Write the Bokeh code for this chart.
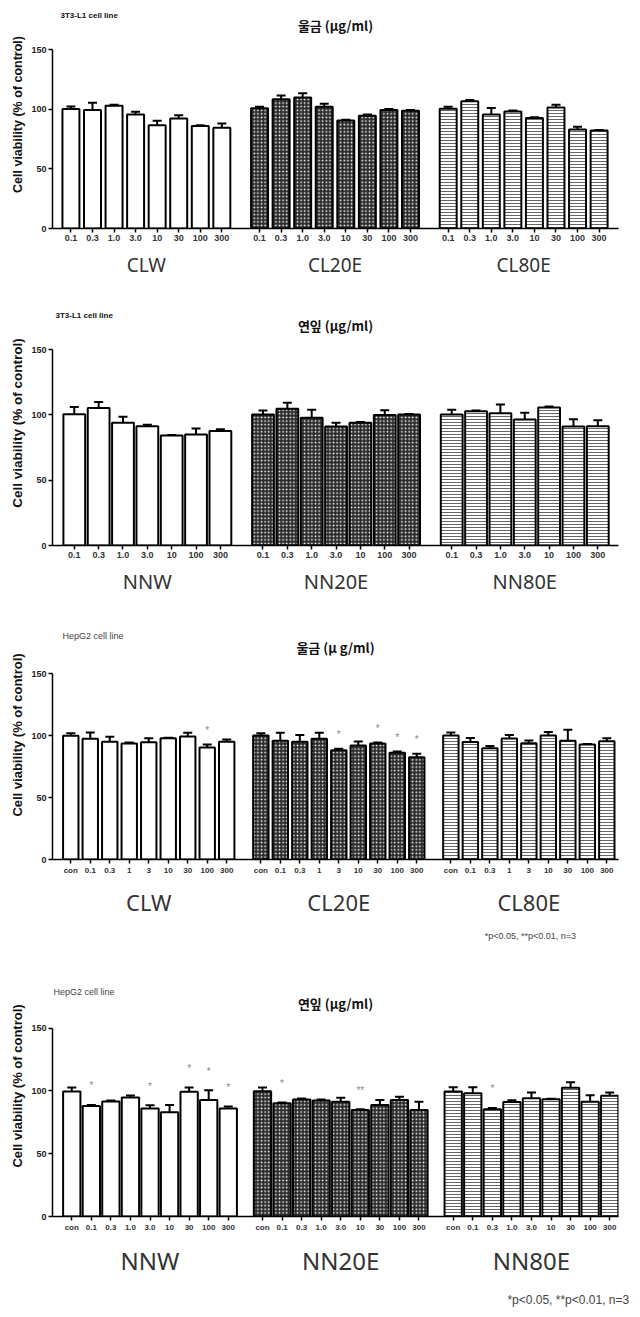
from bokeh.plotting import figure
from bokeh.models import (Range1d, LinearAxis, FixedTicker, Title, Whisker, TeeHead,
                          ColumnDataSource, Label)
from bokeh.layouts import column
from bokeh.embed import file_html
from bokeh.resources import INLINE

# ---------------- data ----------------
# Panel 1: 3T3-L1 cell line, 울금
p1_groups = ["CLW", "CL20E", "CL80E"]
p1_concs = ["0.1", "0.3", "1.0", "3.0", "10", "30", "100", "300"]
p1_clw = [100.1, 99.2, 102.9, 95.6, 86.6, 92.2, 85.8, 84.4]
p1_clw_err = [102.3, 105.4, 103.7, 97.8, 90.3, 94.8, 86.6, 88.0]
p1_cl20e = [100.8, 108.4, 109.8, 102.0, 90.4, 94.4, 99.4, 98.6]
p1_cl20e_err = [102.0, 111.5, 113.4, 104.5, 91.2, 95.6, 100.2, 99.2]
p1_cl80e = [100.3, 106.7, 95.5, 98.0, 92.5, 101.4, 83.0, 82.1]
p1_cl80e_err = [102.0, 107.6, 101.0, 98.8, 93.3, 103.7, 85.2, 82.6]

# Panel 2: 3T3-L1 cell line, 연잎
p2_groups = ["NNW", "NN20E", "NN80E"]
p2_concs = ["0.1", "0.3", "1.0", "3.0", "10", "100", "300"]
p2_nnw = [100.4, 105.3, 94.0, 91.2, 84.2, 85.0, 87.6]
p2_nnw_err = [106.0, 109.9, 98.6, 92.5, 84.6, 89.5, 89.0]
p2_nn20e = [100.2, 104.6, 97.7, 91.1, 94.0, 99.9, 100.2]
p2_nn20e_err = [103.3, 109.2, 103.8, 93.9, 94.5, 103.6, 100.6]
p2_nn80e = [100.2, 102.8, 101.2, 96.4, 105.6, 91.0, 91.3]
p2_nn80e_err = [103.8, 103.3, 107.9, 101.5, 106.3, 96.6, 95.9]

# Panel 3: HepG2 cell line, 울금
p3_groups = ["CLW", "CL20E", "CL80E"]
p3_concs = ["con", "0.1", "0.3", "1", "3", "10", "30", "100", "300"]
p3_clw = [99.7, 97.3, 94.9, 93.5, 94.6, 97.8, 99.2, 90.3, 94.9]
p3_clw_err = [101.9, 102.4, 98.9, 94.4, 97.8, 98.1, 102.2, 92.7, 96.8]
p3_clw_sig = ["", "", "", "", "", "", "", "*", ""]
p3_cl20e = [100.0, 95.7, 94.9, 97.4, 88.2, 91.9, 93.6, 86.0, 82.5]
p3_cl20e_err = [101.9, 102.2, 100.5, 102.3, 89.3, 95.2, 94.3, 87.0, 85.2]
p3_cl20e_sig = ["", "", "", "", "*", "", "*", "*", "*"]
p3_cl80e = [100.0, 94.8, 89.8, 97.6, 93.8, 100.0, 95.7, 92.7, 95.4]
p3_cl80e_err = [102.4, 98.0, 91.6, 100.5, 96.0, 102.9, 104.6, 93.2, 97.8]
p3_cl80e_sig = ["", "", "", "", "", "", "", "", ""]

# Panel 4: HepG2 cell line, 연잎
p4_groups = ["NNW", "NN20E", "NN80E"]
p4_concs = ["con", "0.1", "0.3", "1.0", "3.0", "10", "30", "100", "300"]
p4_nnw = [99.5, 88.1, 91.6, 94.8, 86.0, 83.1, 99.3, 92.9, 86.0]
p4_nnw_err = [102.7, 88.9, 92.4, 96.4, 88.7, 88.9, 102.7, 100.6, 87.6]
p4_nnw_sig = ["", "*", "", "", "*", "", "*", "*", "*"]
p4_nn20e = [99.8, 90.3, 93.2, 92.5, 91.5, 84.9, 88.9, 92.9, 84.9]
p4_nn20e_err = [102.7, 90.8, 94.0, 93.2, 94.7, 85.5, 92.9, 95.5, 91.5]
p4_nn20e_sig = ["", "*", "", "", "", "**", "", "", ""]
p4_nn80e = [99.5, 98.2, 85.4, 91.3, 94.2, 93.4, 102.6, 91.5, 96.3]
p4_nn80e_err = [102.9, 102.9, 86.5, 92.6, 98.7, 93.9, 106.9, 96.6, 98.7]
p4_nn80e_sig = ["", "", "*", "", "", "", "", "", ""]

y_ticks = [0, 50, 100, 150]
y_label = "Cell viability (% of control)"
footnote = "*p<0.05, **p<0.01,  n=3"

# ---------------- styles ----------------
STYLES = [
    dict(fill_color="white", hatch_pattern=None),
    dict(fill_color="#2a2a2a", hatch_pattern="dot", hatch_color="white", hatch_scale=3.6, hatch_weight=2.0),
    dict(fill_color="white", hatch_pattern="horizontal_line", hatch_color="#666666", hatch_scale=3.0, hatch_weight=1.0),
]


def make_panel(groups, concs, vals, errs, sigs, cell_line, title, cfg, note=None):
    n = len(concs)
    pitch = 4 * n + 3
    ymin, ymax_axis = y_ticks[0], y_ticks[-1]
    frame_h = cfg["h"] - cfg["B"]          # frame runs from figure top to x axis
    axis_h = frame_h - cfg["A"]            # pixel height of the 0..150 axis
    per_px = (ymax_axis - ymin) / axis_h
    p = figure(width=640, height=cfg["h"], x_range=Range1d(cfg["x0"], cfg["x1"]),
               y_range=Range1d(ymin, ymin + frame_h * per_px), output_backend="svg",
               toolbar_location=None, x_axis_location=None, y_axis_location="left", title=None,
               min_border_left=cfg["L"], min_border_right=cfg["R"],
               min_border_top=0, min_border_bottom=cfg["B"])
    p.outline_line_color = None
    p.xgrid.visible = False
    p.ygrid.visible = False
    p.background_fill_color = "white"

    ticks, labels = [], {}
    for g in range(len(groups)):
        xs = [2 + 4 * i + g * pitch for i in range(n)]
        for x, c in zip(xs, concs):
            ticks.append(x)
            labels[x] = c
        src = ColumnDataSource(dict(x=xs, top=vals[g], err=errs[g],
                                    sig=sigs[g] if sigs else [""] * n))
        st = dict(STYLES[g])
        hp = st.pop("hatch_pattern")
        kw = dict(line_color="black", line_width=2)
        if hp:
            kw.update(hatch_pattern=hp)
        p.vbar(x="x", top="top", bottom=0, width=cfg["bw"], source=src, **st, **kw)
        p.add_layout(Whisker(source=src, base="x", lower="top", upper="err", dimension="height",
                             line_color="black", line_width=2, lower_head=None,
                             upper_head=TeeHead(size=cfg["cap"], line_width=2, line_color="black")))
        if sigs:
            p.text(x="x", y="err", text="sig", source=src, text_align="center",
                   text_baseline="middle", y_offset=-cfg["star"], text_font_size="10px",
                   text_color="#888888")

    # y axis (line limited to 0..150)
    ya = p.yaxis[0]
    ya.ticker = FixedTicker(ticks=y_ticks)
    ya.bounds = (ymin, ymax_axis)
    ya.axis_line_width = 1.5
    ya.major_tick_line_width = 1.5
    ya.major_tick_out = 4
    ya.major_tick_in = 0
    ya.minor_tick_out = 0
    ya.minor_tick_in = 0
    ya.major_label_text_font = "Liberation Sans"
    ya.major_label_text_font_style = "bold"
    ya.major_label_text_font_size = "9px"
    ya.major_label_text_color = "#222222"
    ya.major_label_standoff = 2
    ya.axis_label = y_label
    ya.axis_label_text_font = "Liberation Sans"
    ya.axis_label_text_font_style = "bold"
    ya.axis_label_text_font_size = cfg["yl"]
    ya.axis_label_text_color = "#111111"
    ya.axis_label_standoff = 3

    # main x axis
    xa = LinearAxis(ticker=FixedTicker(ticks=ticks), major_label_overrides=labels)
    xa.axis_line_width = 1.5
    xa.major_tick_line_width = 1.5
    xa.major_tick_out = 4
    xa.major_tick_in = 0
    xa.minor_tick_out = 0
    xa.minor_tick_in = 0
    xa.major_label_text_font = "Liberation Sans"
    xa.major_label_text_font_style = "bold"
    xa.major_label_text_font_size = cfg["tf"]
    xa.major_label_text_color = "#333333"
    xa.major_label_standoff = 2
    p.add_layout(xa, "below")

    # group axis
    gcent = [g * pitch + 2 * n for g in range(len(groups))]
    ga = LinearAxis(ticker=FixedTicker(ticks=gcent),
                    major_label_overrides={c: name for c, name in zip(gcent, groups)})
    ga.axis_line_color = None
    ga.major_tick_line_color = None
    ga.minor_tick_line_color = None
    ga.major_tick_out = 0
    ga.major_tick_in = 0
    ga.minor_tick_out = 0
    ga.major_label_text_font = "Noto Sans"
    ga.major_label_text_font_size = cfg["gf"]
    ga.major_label_text_color = "#333333"
    ga.major_label_standoff = cfg["gs"]
    p.add_layout(ga, "below")

    if note:
        p.add_layout(Title(text=note, align="right", text_font="Liberation Sans",
                           text_font_style="normal", text_font_size=cfg["nf"],
                           text_color="#444444", standoff=cfg["ns"], offset=cfg["no"]), "below")

    # title (centred over the plot) and cell-line caption, in the space above the axis
    p.add_layout(Label(x=(cfg["x0"] + cfg["x1"]) / 2, y=ymax_axis + cfg["ty"] * per_px,
                       text=title, text_font="Noto Sans CJK KR", text_font_style="bold",
                       text_font_size="13px", text_color="#111111",
                       text_align="center", text_baseline="middle"))
    p.add_layout(Label(x=cfg["x0"], y=ymax_axis + cfg["cy"] * per_px, x_offset=cfg["co"],
                       text=cell_line, text_font="Liberation Sans", text_font_style=cfg["cs"],
                       text_font_size=cfg["cf"], text_color=cfg["cc"],
                       text_align="left", text_baseline="middle"))
    return p


cfg1 = dict(h=300, L=50, R=22, A=49, B=72, x0=-1.42, x1=103.6, bw=3.15, cap=9, star=12,
            tf="9px", gf="19px", gs=8, yl="12.5px", ty=24, cs="bold", cf="8px", cc="#111111",
            co=8, cy=34)
cfg2 = dict(h=310, L=52, R=16, A=49, B=65, x0=-1.58, x1=91.4, bw=3.58, cap=9, star=12,
            tf="9px", gf="20px", gs=7, yl="13.5px", ty=24, cs="bold", cf="8px", cc="#111111",
            co=3, cy=34)
cfg3 = dict(h=345, L=52, R=0, A=63, B=96, x0=-1.75, x1=114.4, bw=3.16, cap=9, star=14,
            tf="8px", gf="22px", gs=9, yl="13px", ty=26, cs="normal", cf="9px", cc="#444444",
            co=10, cy=38, ns=19, no=40, nf="9px")
cfg4 = dict(h=362, L=52, R=0, A=73, B=100, x0=-1.94, x1=113.8, bw=3.54, cap=9, star=19,
            tf="8px", gf="24px", gs=9, yl="13px", ty=25, cs="normal", cf="9px", cc="#444444",
            co=1, cy=36, ns=22, no=-14, nf="12px")

p1 = make_panel(p1_groups, p1_concs, [p1_clw, p1_cl20e, p1_cl80e],
                [p1_clw_err, p1_cl20e_err, p1_cl80e_err], None,
                "3T3-L1 cell line", "울금 (µg/ml)", cfg1)
p2 = make_panel(p2_groups, p2_concs, [p2_nnw, p2_nn20e, p2_nn80e],
                [p2_nnw_err, p2_nn20e_err, p2_nn80e_err], None,
                "3T3-L1 cell line", "연잎 (µg/ml)", cfg2)
p3 = make_panel(p3_groups, p3_concs, [p3_clw, p3_cl20e, p3_cl80e],
                [p3_clw_err, p3_cl20e_err, p3_cl80e_err],
                [p3_clw_sig, p3_cl20e_sig, p3_cl80e_sig],
                "HepG2 cell line", "울금 (µ g/ml)", cfg3, note=footnote)
p4 = make_panel(p4_groups, p4_concs, [p4_nnw, p4_nn20e, p4_nn80e],
                [p4_nnw_err, p4_nn20e_err, p4_nn80e_err],
                [p4_nnw_sig, p4_nn20e_sig, p4_nn80e_sig],
                "HepG2 cell line", "연잎 (µg/ml)", cfg4, note=footnote)

layout = column(p1, p2, p3, p4, spacing=0)
open("out.html", "w").write(file_html(layout, INLINE))
